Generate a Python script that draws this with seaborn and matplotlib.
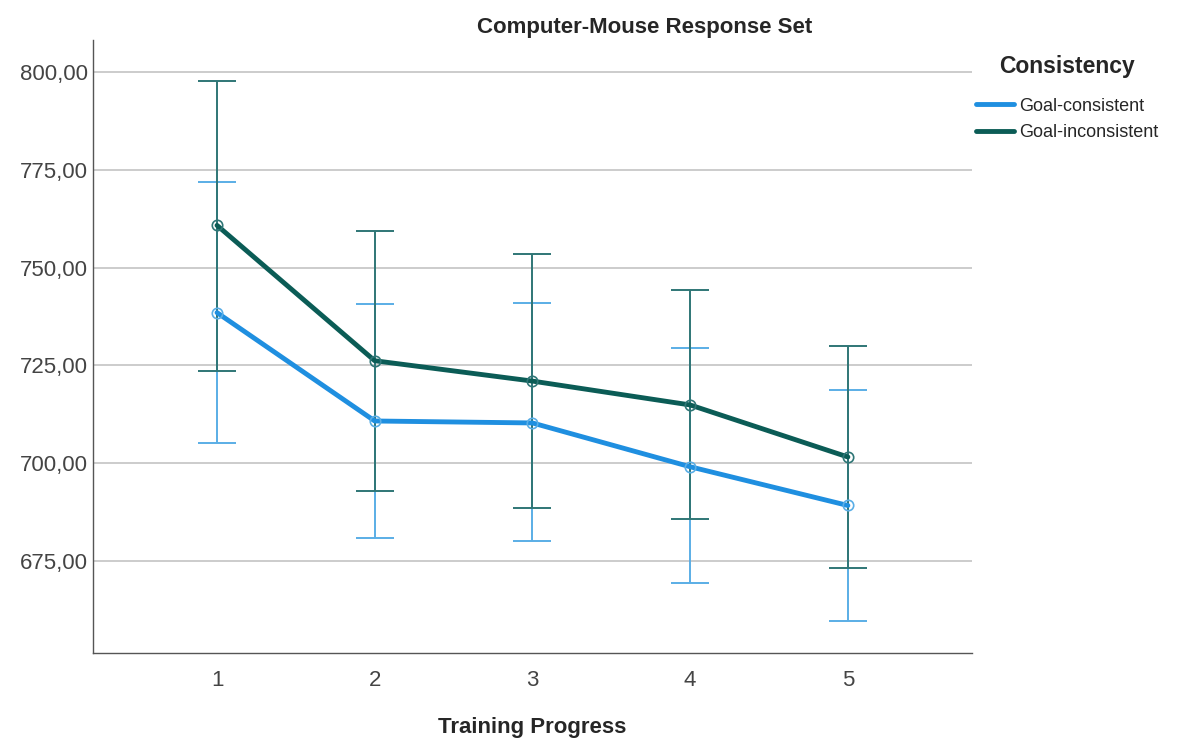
import numpy as np
import pandas as pd
import matplotlib
matplotlib.use("Agg")
import matplotlib.pyplot as plt
import seaborn as sns

# Données
progress = [1, 2, 3, 4, 5]
consistent_mean = [738.5, 710.8, 710.3, 699.1, 689.2]
consistent_low = [705.3, 681.0, 680.1, 669.4, 659.7]
consistent_high = [771.9, 740.8, 740.9, 729.4, 718.7]
inconsistent_mean = [760.8, 726.2, 721.0, 714.9, 701.6]
inconsistent_low = [723.6, 693.0, 688.6, 685.8, 673.1]
inconsistent_high = [797.7, 759.3, 753.6, 744.3, 730.0]
groups = ["Goal-consistent", "Goal-inconsistent"]
colors = {"Goal-consistent": "#1f8fe0", "Goal-inconsistent": "#0b5c56"}
err_colors = {"Goal-consistent": "#5aaee6", "Goal-inconsistent": "#2f7676"}

df = pd.DataFrame({
    "progress": progress * 2,
    "mean": consistent_mean + inconsistent_mean,
    "low": consistent_low + inconsistent_low,
    "high": consistent_high + inconsistent_high,
    "Consistency": [groups[0]] * 5 + [groups[1]] * 5,
})

sns.set_style("white")
plt.rcParams["font.family"] = ["Liberation Sans", "DejaVu Sans"]

fig = plt.figure(figsize=(11.78, 7.40), dpi=100)
ax = fig.add_axes([0.079, 0.1176, 0.746, 0.8284])

# Barres d'erreur
for g in groups:
    d = df[df["Consistency"] == g]
    ax.errorbar(d["progress"], d["mean"],
                yerr=[d["mean"] - d["low"], d["high"] - d["mean"]],
                fmt="none", ecolor=err_colors[g], elinewidth=1.4,
                capsize=14, capthick=1.4, zorder=2)

sns.lineplot(data=df, x="progress", y="mean", hue="Consistency", palette=colors,
             linewidth=3.5, marker="o", markersize=7.5,
             markeredgewidth=1.2, ax=ax, zorder=3)

# cercles vides comme dans SPSS
for line in ax.lines:
    if line.get_marker() == "o":
        c = matplotlib.colors.to_hex(line.get_color())
        g = [k for k, v in colors.items() if v == c]
        line.set_markerfacecolor("none")
        if g:
            line.set_markeredgecolor(err_colors[g[0]])

ax.set_xlim(0.214, 5.786)
ax.set_ylim(651.5, 808.2)
ax.set_xticks(progress)
ax.set_xticklabels([str(p) for p in progress])
yt = [675, 700, 725, 750, 775, 800]
ax.set_yticks(yt)
ax.set_yticklabels([f"{v:.2f}".replace(".", ",") for v in yt])
ax.tick_params(axis="y", labelsize=16, labelcolor="#444444", length=0, pad=4)
ax.tick_params(axis="x", labelsize=16, labelcolor="#444444", length=0, pad=12)
ax.yaxis.grid(True, color="#c8c8c8", linewidth=1.3)
ax.set_axisbelow(True)
for s in ["top", "right"]:
    ax.spines[s].set_visible(False)
for s in ["left", "bottom"]:
    ax.spines[s].set_color("#555555")
    ax.spines[s].set_linewidth(1.0)

ax.set_xlabel("Training Progress", fontsize=16, fontweight="bold", labelpad=19)
ax.set_ylabel("")
fig.text(0.5475, 0.963, "Computer-Mouse Response Set", ha="center", va="center",
         fontsize=16, fontweight="bold")

leg = ax.legend(title="Consistency", loc="upper left", bbox_to_anchor=(0.995, 0.99),
                frameon=False, fontsize=13, title_fontproperties={"weight": "bold", "size": 16.5},
                handlelength=2.1, handletextpad=0.25, labelspacing=0.55, borderpad=0)
leg._legend_box.sep = 14
for h in leg.get_lines():
    h.set_marker("")
    h.set_linewidth(3.5)

fig.savefig("out.png", dpi=100)
